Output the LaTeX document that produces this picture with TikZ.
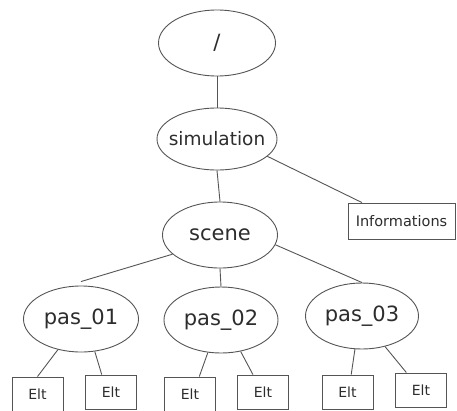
\documentclass[tikz,border=0pt]{standalone}
\usepackage{fontspec}
\setmainfont{DejaVu Sans}
\usetikzlibrary{shapes.geometric,calc}
\definecolor{ln}{RGB}{85,85,85}
\definecolor{tx}{RGB}{45,45,45}
\tikzset{
  ell/.style={draw=ln, line width=0.9pt, ellipse, inner sep=0pt, text=tx,
    font=\fontsize{21}{24}\selectfont},
  eltbox/.style={draw=ln, line width=0.9pt, rectangle, inner sep=0pt, text=tx,
    minimum width=51pt, minimum height=34pt, font=\fontsize{14}{16}\selectfont},
  conn/.style={draw=ln, line width=0.9pt}
}
\begin{document}
\begin{tikzpicture}[x=1pt,y=-1pt]
\useasboundingbox (0,0) rectangle (457,410);
\fill[white] (0,0) rectangle (457,410);
\node[ell, minimum width=117pt, minimum height=66pt] (root) at (217,43) {\makebox[0pt]{/}};
\node[ell, minimum width=120pt, minimum height=62pt] (sim) at (217,139) {\makebox[0pt]{\fontsize{18.5}{22}\selectfont simulation}};
\node[ell, minimum width=115pt, minimum height=66pt] (scene) at (220,235) {\makebox[0pt]{scene}};
\node[draw=ln, line width=0.9pt, rectangle, inner sep=0pt, minimum width=107pt, minimum height=36pt, text=tx, font=\fontsize{14.5}{16}\selectfont] (info) at (401.5,221) {Informations};
\node[ell, minimum width=115pt, minimum height=66pt] (p1) at (81,319) {\makebox[0pt]{pas\_01}};
\node[ell, minimum width=114pt, minimum height=66pt] (p2) at (221,320) {\makebox[0pt]{pas\_02}};
\node[ell, minimum width=113pt, minimum height=66pt] (p3) at (362,316) {\makebox[0pt]{pas\_03}};
\node[eltbox] (e1) at (37.5,394) {Elt};
\node[eltbox] (e2) at (111,392) {Elt};
\node[eltbox] (e3) at (190,394) {Elt};
\node[eltbox] (e4) at (263,392) {Elt};
\node[eltbox] (e5) at (347.5,392) {Elt};
\node[eltbox] (e6) at (421,390) {Elt};
\draw[conn] (root.south) -- (sim.north);
\draw[conn] (sim.south) -- (scene.north);
\draw[conn] (sim.341) -- (info.155);
\draw[conn] (scene.202) -- ($(p1.north)+(0,-4)$);
\draw[conn] (scene.south) -- (p2.north);
\draw[conn] (scene.350) -- (p3.north);
\draw[conn] (p1.233) -- (e1.north);
\draw[conn] (p1.293) -- (e2.118);
\draw[conn] (p2.248) -- (e3.62);
\draw[conn] (p2.302) -- (e4.120);
\draw[conn] (p3.258) -- (e5.78);
\draw[conn] (p3.307) -- (e6.130);
\end{tikzpicture}
\end{document}
